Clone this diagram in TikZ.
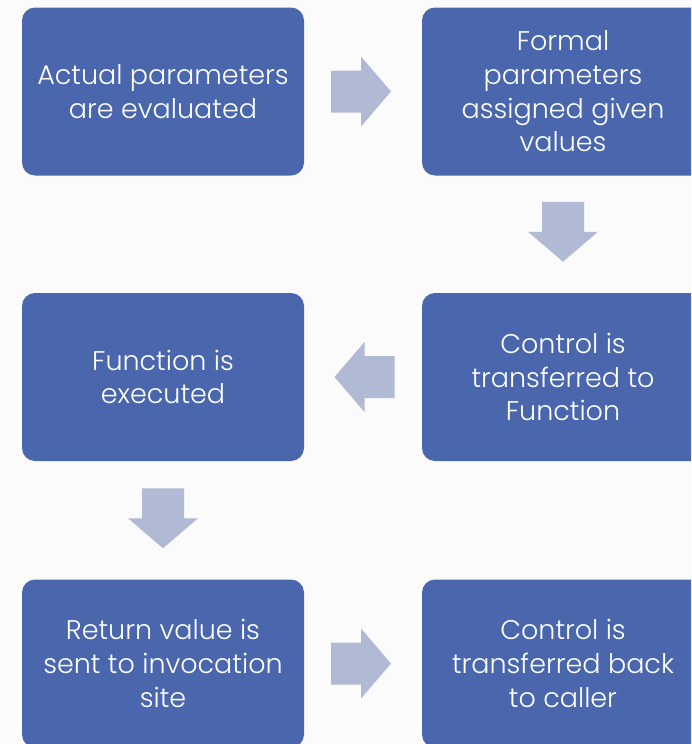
\documentclass[tikz,border=0pt]{standalone}
\usepackage{fontspec}
\setmainfont{Poppins Light}
\usetikzlibrary{calc}
\definecolor{boxblue}{HTML}{4A66AC}
\definecolor{arrowfill}{HTML}{B1BAD4}
\definecolor{bgcol}{HTML}{FBFBFC}
\tikzset{
  stepbox/.style={rectangle, rounded corners=13pt, fill=boxblue, text=white,
    minimum width=282pt, minimum height=168pt, align=center, inner sep=0pt,
    font=\fontsize{27}{33.7}\selectfont},
  blockarrow/.pic={\fill[arrowfill] (-30,-21) -- (0,-21) -- (0,-35) -- (30,0) -- (0,35) -- (0,21) -- (-30,21) -- cycle;}
}
\begin{document}
\begin{tikzpicture}[x=1pt,y=-1pt]
\useasboundingbox (0,0) rectangle (691,744);
\clip (0,0) rectangle (691,744);
\fill[bgcol] (0,0) rectangle (691,744);
\node[stepbox] (a) at (163,91.5) {Actual parameters\\are evaluated};
\node[stepbox] (b) at (563,91.5) {Formal\\parameters\\assigned given\\values};
\node[stepbox] (c) at (563,377) {Control is\\transferred to\\Function};
\node[stepbox] (d) at (163,377) {Function is\\executed};
\node[stepbox] (e) at (163,663.5) {Return value is\\sent to invocation\\site};
\node[stepbox] (f) at (563,663.5) {Control is\\transferred back\\to caller};
\path ($(a.east)!0.5!(b.west)$) coordinate (m1);
\path ($(b.south)!0.5!(c.north)$) coordinate (m2);
\path ($(c.west)!0.5!(d.east)$) coordinate (m3);
\path ($(d.south)!0.5!(e.north)$) coordinate (m4);
\path ($(e.east)!0.5!(f.west)$) coordinate (m5);
\pic at ([xshift=-2pt]m1) {blockarrow};
\pic[rotate=-90] at ([yshift=2.5pt]m2) {blockarrow};
\pic[rotate=180] at ([xshift=1.5pt]m3) {blockarrow};
\pic[rotate=-90] at ([yshift=2pt]m4) {blockarrow};
\pic at ([xshift=-2pt]m5) {blockarrow};
\end{tikzpicture}
\end{document}
